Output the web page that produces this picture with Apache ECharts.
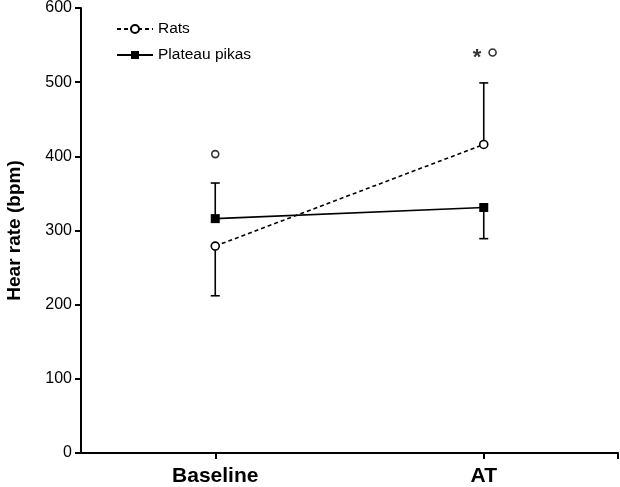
<!DOCTYPE html>
<html><head><meta charset="utf-8">
<script src="https://cdn.jsdelivr.net/npm/echarts@6/dist/echarts.min.js"></script>
<style>html,body{margin:0;padding:0;background:#fff}#c{width:620px;height:487px}</style>
</head><body><div id="c"></div>
<script>
const categories = ['Baseline', 'AT'];
const categoryPos = [1, 2];
const yTicks = [0, 100, 200, 300, 400, 500, 600];
const ratsMean = [279, 416];
const ratsErrEnd = [212, 499];
const pikasMean = [316, 331];
const pikasErrEnd = [364, 289];
const ratsOutliers = [[1, 403], [2.033, 540]];
const significance = [[1.975, 540]];

const chart = echarts.init(document.getElementById('c'), null, {renderer: 'canvas'});
const font = 'Liberation Sans, Arial, Helvetica, sans-serif';

function errData(means, ends) {
  return categoryPos.map((x, i) => [x, means[i], ends[i]]);
}
function renderErr(params, api) {
  const x = api.value(0), y0 = api.value(1), y1 = api.value(2);
  const p0 = api.coord([x, y0]);
  const p1 = api.coord([x, y1]);
  const hw = 4.5;
  const st = {stroke: '#000', lineWidth: 1.6};
  return {type: 'group', children: [
    {type: 'line', shape: {x1: p0[0], y1: p0[1], x2: p1[0], y2: p1[1]}, style: st},
    {type: 'line', shape: {x1: p1[0] - hw, y1: p1[1], x2: p1[0] + hw, y2: p1[1]}, style: st}
  ]};
}

chart.setOption({
  animation: false,
  backgroundColor: '#fff',
  textStyle: {fontFamily: font},
  grid: {left: 81, right: 2, top: 8, bottom: 34, outerBoundsMode: 'none'},
  legend: {
    orient: 'vertical', left: 111, top: 16, itemGap: 10, itemWidth: 36, itemHeight: 10,
    textStyle: {fontSize: 15.5, color: '#000', fontFamily: font},
    data: ['Rats', 'Plateau pikas']
  },
  xAxis: {
    type: 'value', min: 0.5, max: 2.5,
    axisLine: {lineStyle: {color: '#000', width: 2}},
    axisTick: {show: true, length: 6, lineStyle: {color: '#000', width: 2}, customValues: [1, 2, 2.5]},
    axisLabel: {customValues: categoryPos, formatter: v => categories[Math.round(v) - 1] || '',
      fontSize: 21, fontWeight: 'bold', color: '#000', margin: 13, fontFamily: font},
    splitLine: {show: false}
  },
  yAxis: {
    type: 'value', min: 0, max: 600, interval: 100,
    name: 'Hear rate (bpm)', nameLocation: 'middle', nameGap: 57,
    nameTextStyle: {fontSize: 19, fontWeight: 'bold', color: '#000', fontFamily: font},
    axisLine: {show: true, lineStyle: {color: '#000', width: 2}},
    axisTick: {show: true, length: 6, lineStyle: {color: '#000', width: 2}},
    axisLabel: {fontSize: 16, color: '#000', margin: 9, fontFamily: font,
      formatter: v => yTicks.includes(v) ? String(v) : ''},
    splitLine: {show: false}
  },
  series: [
    {type: 'custom', name: 'ratsErr', renderItem: renderErr, data: errData(ratsMean, ratsErrEnd), z: 1, silent: true},
    {type: 'custom', name: 'pikasErr', renderItem: renderErr, data: errData(pikasMean, pikasErrEnd), z: 1, silent: true},
    {
      type: 'line', name: 'Rats', z: 3,
      data: categoryPos.map((x, i) => [x, ratsMean[i]]),
      symbol: 'circle', symbolSize: 8,
      lineStyle: {color: '#000', width: 1.6, type: [4, 3]},
      itemStyle: {color: '#fff', borderColor: '#000', borderWidth: 1.6}
    },
    {
      type: 'line', name: 'Plateau pikas', z: 3,
      data: categoryPos.map((x, i) => [x, pikasMean[i]]),
      symbol: 'rect', symbolSize: 9,
      lineStyle: {color: '#000', width: 1.6},
      itemStyle: {color: '#000', borderColor: '#000', borderWidth: 0}
    },
    {
      type: 'scatter', name: 'outliers', z: 3,
      data: ratsOutliers, symbol: 'circle', symbolSize: 7,
      itemStyle: {color: '#fff', borderColor: '#000', borderWidth: 1.6}
    },
    {
      type: 'scatter', name: 'sig', z: 3, data: significance, symbolSize: 0,
      label: {show: true, position: 'inside', formatter: '*', fontSize: 22, fontWeight: 'bold', color: '#000', offset: [0, 5]}
    }
  ]
});
</script></body></html>
